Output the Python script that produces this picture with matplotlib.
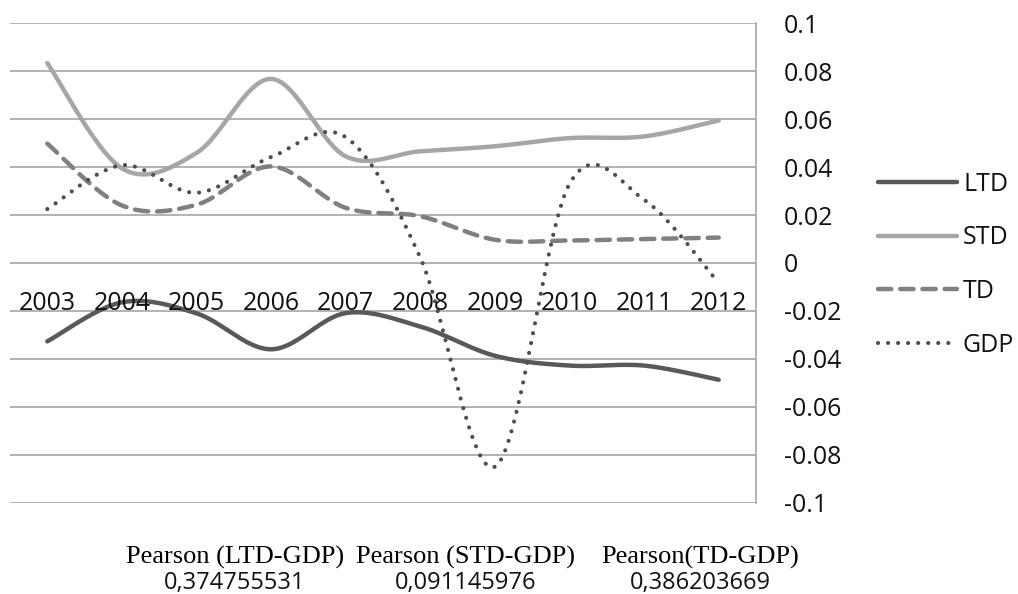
import numpy as np
import matplotlib
matplotlib.use("Agg")
import matplotlib.pyplot as plt
from matplotlib.lines import Line2D
from matplotlib.ticker import FuncFormatter

# ---- data -------------------------------------------------------------
years = ["2003", "2004", "2005", "2006", "2007",
         "2008", "2009", "2010", "2011", "2012"]
ltd = [-0.0327, -0.0164, -0.0210, -0.0360, -0.0209,
       -0.0265, -0.0387, -0.0428, -0.0428, -0.0487]
std = [0.0834, 0.0395, 0.0459, 0.0768, 0.0445,
       0.0466, 0.0487, 0.0521, 0.0528, 0.0595]
td = [0.0498, 0.0240, 0.0243, 0.0403, 0.0230,
      0.0195, 0.0097, 0.0094, 0.0100, 0.0106]
gdp = [0.0225, 0.0408, 0.0293, 0.0442, 0.0525,
       0.0022, -0.0850, 0.0330, 0.0264, -0.0083]
y_ticks = [0.1, 0.08, 0.06, 0.04, 0.02, 0, -0.02, -0.04, -0.06, -0.08, -0.1]

pearson_labels = ["Pearson (LTD-GDP)", "Pearson (STD-GDP)", "Pearson(TD-GDP)"]
pearson_values = ["0,374755531", "0,091145976", "0,386203669"]


def smooth(values, per_seg=40):
    """Bezier smoothing through every point (Catmull-Rom tangents)."""
    v = np.asarray(values, dtype=float)
    n = len(v)
    xs, ys = [], []
    for i in range(n - 1):
        p0 = v[i]
        p3 = v[i + 1]
        prev = v[i - 1] if i > 0 else v[i]
        nxt = v[i + 2] if i + 2 < n else v[i + 1]
        p1 = p0 + (p3 - prev) / 6.0
        p2 = p3 - (nxt - p0) / 6.0
        x0 = float(i)
        x3 = float(i + 1)
        x1 = x0 + (x3 - (x0 - 1 if i > 0 else x0)) / 6.0
        x2 = x3 - ((x3 + 1 if i + 2 < n else x3) - x0) / 6.0
        t = np.linspace(0, 1, per_seg, endpoint=(i == n - 2))
        b0 = (1 - t) ** 3
        b1 = 3 * (1 - t) ** 2 * t
        b2 = 3 * (1 - t) * t ** 2
        b3 = t ** 3
        xs.append(b0 * x0 + b1 * x1 + b2 * x2 + b3 * x3)
        ys.append(b0 * p0 + b1 * p1 + b2 * p2 + b3 * p3)
    return np.concatenate(xs), np.concatenate(ys)


W, H, DPI = 1018, 594, 100
fig = plt.figure(figsize=(W / DPI, H / DPI), dpi=DPI)
fig.patch.set_facecolor("white")

left, right, top, bottom = 10, 756, 23.3, 502.7
ax = fig.add_axes([left / W, 1 - bottom / H, (right - left) / W, (bottom - top) / H])

sans = ["Open Sans", "DejaVu Sans"]
serif = ["Liberation Serif", "DejaVu Serif"]
fs = 18

grid_col = "#a6a6a6"
for s in ["left", "top", "bottom"]:
    ax.spines[s].set_visible(False)
ax.spines["right"].set_color(grid_col)
ax.spines["right"].set_linewidth(1.2)

ax.set_xlim(-0.5, len(years) - 0.5)
ax.set_ylim(-0.1, 0.1)
ax.set_xticks([])
ax.yaxis.tick_right()
ax.set_yticks(y_ticks)
ax.yaxis.set_major_formatter(FuncFormatter(lambda v, p: f"{v:g}" if abs(v) > 1e-12 else "0"))
ax.tick_params(axis="y", length=0, pad=20, labelsize=fs, colors="#111111")
for lab in ax.get_yticklabels():
    lab.set_fontfamily(sans)
ax.grid(axis="y", color=grid_col, linewidth=1.2)
ax.set_axisbelow(True)

styles = {
    "LTD": dict(color="#595959", lw=3.2, ls="-", solid_capstyle="round"),
    "STD": dict(color="#a6a6a6", lw=3.2, ls="-", solid_capstyle="round"),
    "TD": dict(color="#808080", lw=3.2, ls=(0, (3.0, 2.0)), dash_capstyle="round"),
    "GDP": dict(color="#4d4d4d", lw=3.0, ls=(0, (0.01, 2.4)), dash_capstyle="round"),
}
series = {"LTD": ltd, "STD": std, "TD": td, "GDP": gdp}
handles = []
for name in ["LTD", "STD", "TD", "GDP"]:
    xs, ys = smooth(series[name])
    ax.plot(xs, ys, **styles[name])
    handles.append(Line2D([], [], **styles[name]))

# category labels sit just under the zero line
for i, yr in enumerate(years):
    ax.annotate(yr, xy=(i, 0), xytext=(0, -46.5), textcoords="offset pixels",
                ha="center", va="baseline", fontsize=fs, family=sans, color="#111111")

leg = fig.legend(handles, ["LTD", "STD", "TD", "GDP"], loc="upper left",
                 bbox_to_anchor=(878 / W, 1 - 172 / H), frameon=False,
                 prop={"family": sans, "size": fs}, handlelength=3.15,
                 handletextpad=0.25, labelspacing=1.14, borderpad=0, borderaxespad=0)
for t in leg.get_texts():
    t.set_color("#111111")

# correlation table under the chart
head_x = [235, 466, 700]
for x, lab, val in zip(head_x, pearson_labels, pearson_values):
    fig.text(x / W, 1 - 564 / H, lab, ha="center", va="baseline",
             fontsize=19, family=serif, color="#000000")
    fig.text(x / W, 1 - 589 / H, val, ha="center", va="baseline",
             fontsize=17, family=sans, color="#111111")

fig.savefig("out.png", dpi=DPI)
